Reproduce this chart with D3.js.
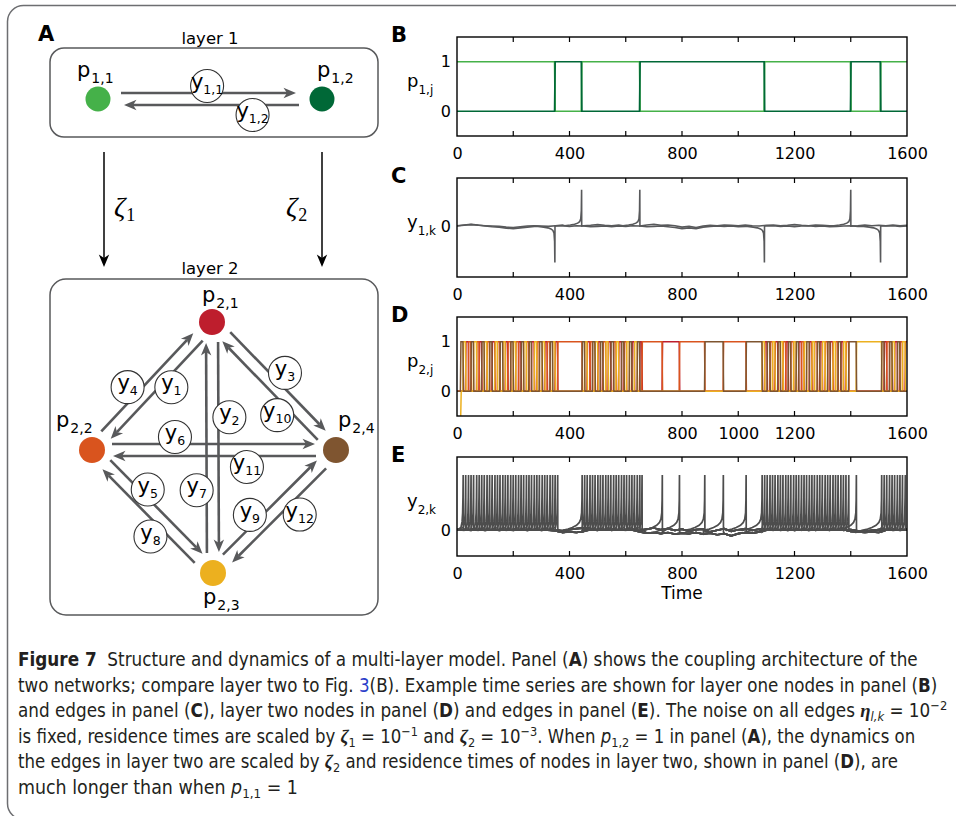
<!DOCTYPE html>
<html>
<head>
<meta charset="utf-8">
<script src="https://cdn.jsdelivr.net/npm/d3@7"></script>
<style>
  body { margin: 0; background: #fff; }
  svg { display: block; }
</style>
</head>
<body>
<svg id="fig" width="956" height="816"></svg>
<script>
// ================= data =================
const timeTicks  = [0, 400, 800, 1200, 1600];
const timeTicksD = [0, 400, 800, 1000, 1200, 1600];
const timeEnd = 1600;

// layer one: two nodes, two edges (from, to, label)
const layer1Nodes  = ["1,1", "1,2"];
const layer1Colors = ["#45b149", "#006837"];
const layer1Edges  = [[0, 1, "1,1"], [1, 0, "1,2"]];
// switch times of layer one: [time, node that becomes active]; node 0 active at t = 0
const layer1Switches = [[348, 1], [443, 0], [650, 1], [1093, 0], [1400, 1], [1506, 0]];
const layer1Initial  = [1, 0];
// direction of the edge spike at each layer-one switch (+1 up, -1 down)
const layer1SpikeSign = [-1, 1, 1, -1, 1, -1];

// layer two: four nodes, twelve edges (from, to, label)
const layer2Nodes  = ["2,1", "2,2", "2,3", "2,4"];
const layer2Colors = ["#be1e2d", "#d9541e", "#ecb01f", "#7f5530"];
const layer2Edges  = [
  [0, 1, "1"], [0, 2, "2"], [0, 3, "3"],
  [1, 0, "4"], [1, 2, "5"], [1, 3, "6"],
  [2, 0, "7"], [2, 1, "8"], [2, 3, "9"],
  [3, 0, "10"], [3, 1, "11"], [3, 2, "12"]
];
const layer2Initial = [0, 0, -0.55, 0];
const layer2SettleTime = 14;
// switch times of layer two: [time, node that becomes active]
const layer2Switches = [
  [13,3],[22,2],[31,0],[41,1],[50,3],[59,2],[70,1],[79,0],[88,3],[97,2],[107,1],[116,3],[125,0],
  [135,2],[144,1],[153,3],[163,2],[172,0],[181,1],[191,3],[200,2],[209,1],[219,0],[228,3],[237,2],
  [247,1],[256,3],[265,0],[275,2],[284,1],[293,3],[303,2],[312,0],[321,1],[331,3],[340,2],[349,0],[358,1],
  [445,3],[454,2],[463,0],[473,1],[482,3],[491,2],[501,0],[510,3],[519,1],[529,2],[538,0],[547,3],
  [557,1],[566,2],[575,0],[585,3],[594,1],[603,2],[613,3],[622,0],[631,2],[641,3],[650,0],[658,1],
  [730,0],[791,1],[881,3],[947,1],[1028,3],
  [1085,2],[1094,0],[1103,3],[1113,1],[1122,2],[1131,0],[1141,3],[1150,2],[1159,1],[1169,0],
  [1178,3],[1187,1],[1197,2],[1206,3],[1215,0],[1225,1],[1234,2],[1243,3],[1253,0],[1262,2],
  [1271,1],[1281,3],[1290,0],[1299,2],[1309,1],[1318,3],[1327,0],[1337,2],[1346,1],[1355,3],
  [1365,0],[1374,2],[1383,1],[1393,3],
  [1420,2],
  [1510,3],[1519,0],[1528,1],[1538,3],[1547,2],[1556,0],[1566,3],[1575,1],[1584,2],[1594,0]
];

// edge spike shapes: [time offset from switch, value]
const fastSpike   = [[-8,0.06],[-4,0.16],[-2,0.32],[-0.8,0.6],[0,1],[0.4,0.03]];
const slowSpike   = [[-70,0.01],[-50,0.03],[-35,0.06],[-20,0.1],[-10,0.15],[-5,0.21],[-2,0.32],[-0.7,0.55],[0,1],[0.4,-0.02]];
const layer1Spike = [[-60,0.01],[-40,0.03],[-25,0.05],[-14,0.08],[-7,0.12],[-3,0.2],[-1,0.42],[0,1],[0.4,0]];
const slowGap = 25;

// edge fluctuations around zero, sampled every 25 time units (t = 0 ... 1600)
const noiseStep = 25;
const noiseC1 = [
  0.01, 0.03, 0.05, 0.03, 0.00,  -0.02,-0.03,-0.06,-0.07,-0.05,  -0.03,-0.01,-0.03,-0.04, 0.00,
  0.01,-0.01, 0.01, 0.00,-0.02,  -0.01, 0.00,-0.02, 0.00,-0.01,   0.01, 0.00,-0.02,-0.01, 0.00,
 -0.02,-0.04,-0.07,-0.05,-0.07,  -0.03,-0.01, 0.00,-0.01, 0.00,  -0.02,-0.01, 0.00,-0.01, 0.00,
  0.01,-0.01, 0.00,-0.02, 0.00,   0.01,-0.01, 0.00,-0.02,-0.01,   0.00, 0.01,-0.01, 0.00,-0.02,
 -0.01, 0.00, 0.01,-0.01, 0.00];
const noiseC2 = [
  0.00, 0.02, 0.04, 0.02, 0.01,   0.00,-0.01,-0.03,-0.04,-0.02,   0.00, 0.01, 0.00,-0.01, 0.01,
  0.03, 0.02, 0.04, 0.01, 0.02,   0.04, 0.02, 0.01, 0.03, 0.05,   0.02, 0.01, 0.03, 0.05, 0.02,
  0.03, 0.01,-0.03,-0.01,-0.04,   0.00, 0.02, 0.01, 0.03, 0.02,   0.01, 0.03, 0.01, 0.00, 0.02,
  0.03, 0.01, 0.02, 0.04, 0.02,   0.01, 0.03, 0.02, 0.01, 0.03,   0.02, 0.00, 0.01, 0.03, 0.01,
  0.02, 0.01, 0.03, 0.01, 0.02];
const noiseE1 = [
  0.02, 0.01, 0.02, 0.01, 0.02,   0.01, 0.02, 0.01, 0.02, 0.01,   0.02, 0.01, 0.02, 0.01, 0.00,
 -0.03,-0.02,-0.03,-0.01, 0.02,   0.01, 0.02, 0.01, 0.02, 0.01,   0.01,-0.02,-0.04,-0.03,-0.05,
 -0.03,-0.06,-0.04,-0.05,-0.03,  -0.06,-0.04,-0.07,-0.05,-0.09,  -0.05,-0.03,-0.04,-0.02, 0.01,
  0.02, 0.01, 0.02, 0.01, 0.02,   0.01, 0.02, 0.01, 0.02, 0.01,   0.02,-0.01,-0.02,-0.03,-0.02,
 -0.03, 0.01, 0.02, 0.01, 0.02];
const noiseE2 = [
  0.01, 0.02, 0.01, 0.02, 0.01,   0.02, 0.01, 0.02, 0.01, 0.02,   0.01, 0.02, 0.01, 0.02, 0.01,
  0.00, 0.02, 0.04, 0.05, 0.02,   0.02, 0.01, 0.02, 0.01, 0.02,   0.02, 0.00, 0.03, 0.05, 0.02,
  0.04, 0.01, 0.03,-0.01, 0.02,   0.03,-0.02, 0.01, 0.04,-0.01,   0.02, 0.04, 0.01, 0.03, 0.02,
  0.01, 0.02, 0.01, 0.02, 0.01,   0.02, 0.01, 0.02, 0.01, 0.02,   0.01, 0.02, 0.00,-0.01, 0.01,
  0.02, 0.02, 0.01, 0.02, 0.01];

// caption text, one array of runs per printed line
const captionLines = [
  [{t:"Figure 7", b:1}, {t:"  Structure and dynamics of a multi-layer model. Panel ("}, {t:"A", b:1}, {t:") shows the coupling architecture of the"}],
  [{t:"two networks; compare layer two to Fig. "}, {t:"3", link:1}, {t:"(B). Example time series are shown for layer one nodes in panel ("}, {t:"B", b:1}, {t:")"}],
  [{t:"and edges in panel ("}, {t:"C", b:1}, {t:"), layer two nodes in panel ("}, {t:"D", b:1}, {t:") and edges in panel ("}, {t:"E", b:1},
   {t:"). The noise on all edges "}, {t:"η", g:1}, {t:"l,k", sub:1, i:1}, {t:" = 10"}, {t:"−2", sup:1}],
  [{t:"is fixed, residence times are scaled by "}, {t:"ζ", g:1}, {t:"1", sub:1}, {t:" = 10"}, {t:"−1", sup:1}, {t:" and "}, {t:"ζ", g:1}, {t:"2", sub:1},
   {t:" = 10"}, {t:"−3", sup:1}, {t:". When "}, {t:"p", i:1}, {t:"1,2", sub:1}, {t:" = 1 in panel ("}, {t:"A", b:1}, {t:"), the dynamics on"}],
  [{t:"the edges in layer two are scaled by "}, {t:"ζ", g:1}, {t:"2", sub:1}, {t:" and residence times of nodes in layer two, shown in panel ("}, {t:"D", b:1}, {t:"), are"}],
  [{t:"much longer than when "}, {t:"p", i:1}, {t:"1,1", sub:1}, {t:" = 1"}]
];

// ================= drawing =================
const FONT = '"DejaVu Sans", "Liberation Sans", Arial, sans-serif';
const SERIF = '"Liberation Serif", "DejaVu Serif", serif';
const CAPFONT = '"Liberation Sans Narrow", "DejaVu Sans Condensed", "Liberation Sans", sans-serif';
const svg = d3.select("#fig").attr("font-family", FONT);

// outer figure frame
svg.append("rect").attr("x", 7.5).attr("y", 5.5).attr("width", 1000).attr("height", 814)
  .attr("rx", 16).attr("fill", "none").attr("stroke", "#6d6e71").attr("stroke-width", 1.5);

// ---------- panel A: network diagram ----------
const HEAD = "M0,0 L-12.5,-5.2 L-9,0 L-12.5,5.2 Z";
const edgeGrey = "#58595b";
const gA = svg.append("g");

gA.append("text").attr("x", 38).attr("y", 41).attr("font-size", 21).attr("font-weight", "bold").text("A");
gA.append("text").attr("x", 210).attr("y", 44).attr("text-anchor", "middle").attr("font-size", 16.5).text("layer 1");
gA.append("text").attr("x", 210).attr("y", 274).attr("text-anchor", "middle").attr("font-size", 16.5).text("layer 2");

gA.append("rect").attr("x", 50).attr("y", 48).attr("width", 328).attr("height", 89).attr("rx", 14)
  .attr("fill", "none").attr("stroke", "#58595b").attr("stroke-width", 1.5);
gA.append("rect").attr("x", 50).attr("y", 279).attr("width", 328).attr("height", 336).attr("rx", 16)
  .attr("fill", "none").attr("stroke", "#58595b").attr("stroke-width", 1.5);

// coupling arrows between the layers
const zetaArrows = [{x: 104, sub: "1", lx: 114}, {x: 322, sub: "2", lx: 286}];
zetaArrows.forEach(z => {
  gA.append("line").attr("x1", z.x).attr("y1", 152).attr("x2", z.x).attr("y2", 258)
    .attr("stroke", "#000").attr("stroke-width", 1.5);
  gA.append("path").attr("d", HEAD).attr("fill", "#000")
    .attr("transform", `translate(${z.x},267) rotate(90)`);
  const t = gA.append("text").attr("x", z.lx).attr("y", 216).attr("font-family", SERIF);
  t.append("tspan").attr("font-size", 28).attr("font-style", "italic").text("ζ");
  t.append("tspan").attr("font-size", 18).attr("dy", 5).attr("dx", 1).text(z.sub);
});

function drawNetwork(g, pos, edges, colors, names, opt) {
  const geo = edges.map(([a, b, lab], i) => {
    const A = pos[a], B = pos[b];
    const dx = B[0] - A[0], dy = B[1] - A[1], L = Math.hypot(dx, dy);
    const u = [dx / L, dy / L], n = [-u[1], u[0]];
    const o = [n[0] * opt.offset, n[1] * opt.offset];
    const s = [A[0] + u[0] * opt.trimStart + o[0], A[1] + u[1] * opt.trimStart + o[1]];
    const tip = [B[0] - u[0] * opt.trimEnd + o[0], B[1] - u[1] * opt.trimEnd + o[1]];
    const along = opt.along[i] * L, perp = opt.perp[i];
    const c = [A[0] + u[0] * along + n[0] * perp, A[1] + u[1] * along + n[1] * perp];
    return {s, tip, u, c, lab, ang: Math.atan2(u[1], u[0]) * 180 / Math.PI};
  });
  g.selectAll(null).data(geo).join("line")
    .attr("x1", d => d.s[0]).attr("y1", d => d.s[1])
    .attr("x2", d => d.tip[0] - d.u[0] * 9).attr("y2", d => d.tip[1] - d.u[1] * 9)
    .attr("stroke", edgeGrey).attr("stroke-width", 2.6);
  g.selectAll(null).data(geo).join("path").attr("d", HEAD).attr("fill", edgeGrey)
    .attr("transform", d => `translate(${d.tip[0]},${d.tip[1]}) rotate(${d.ang})`);
  const lab = g.selectAll(null).data(geo).join("g")
    .attr("transform", d => `translate(${d.c[0]},${d.c[1]})`);
  lab.append("circle").attr("r", 16.5).attr("fill", "#fff").attr("stroke", "#333").attr("stroke-width", 1.1);
  const tx = lab.append("text").attr("text-anchor", "middle").attr("y", 3).attr("font-size", 21);
  tx.append("tspan").text("y");
  tx.append("tspan").attr("font-size", 12.5).attr("dy", 5).text(d => d.lab);

  g.selectAll(null).data(pos).join("circle")
    .attr("cx", d => d[0]).attr("cy", d => d[1]).attr("r", opt.r)
    .attr("fill", (d, i) => colors[i]);
  const nl = g.selectAll(null).data(pos).join("text")
    .attr("x", (d, i) => d[0] + opt.labelOffset[i][0])
    .attr("y", (d, i) => d[1] + opt.labelOffset[i][1]);
  nl.append("tspan").attr("font-size", 21).text("p");
  nl.append("tspan").attr("font-size", 14).attr("dy", 6).attr("dx", 1).text((d, i) => names[i]);
}

// layout of the two networks
const layer1Pos = [[98, 99], [322, 99]];
const layer2Pos = [[212, 322], [92, 450], [213, 573], [336, 450]];

drawNetwork(gA.append("g"), layer1Pos, layer1Edges, layer1Colors, layer1Nodes, {
  offset: -6, trimStart: 23, trimEnd: 26, r: 12.5,
  along: [0.487, 0.31], perp: [-13, -16],
  labelOffset: [[-21, -22], [-5, -22]]
});
drawNetwork(gA.append("g"), layer2Pos, layer2Edges, layer2Colors, layer2Nodes, {
  offset: -6, trimStart: 20, trimEnd: 21, r: 13,
  along: [0.43, 0.38, 0.49, 0.40, 0.39, 0.34, 0.33, 0.405, 0.386, 0.37, 0.365, 0.41],
  perp:  [-15, -17, -17, -17, -12, -13, -16, -19, -15, -18, -17, -20],
  labelOffset: [[-10, -20], [-36, -23], [-10, 31], [2, -23]]
});

// ---------- time-series panels ----------
const x = d3.scaleLinear().domain([0, timeEnd]).range([457, 907]);
const line = y => d3.line().x(d => x(d[0])).y(d => y(d[1]));

function panel(key, letter, top, bottom, domain, xTickValues, yTickValues, ySym, ySub) {
  const g = svg.append("g");
  const y = d3.scaleLinear().domain(domain).range([bottom, top]);
  g.append("clipPath").attr("id", "clip" + key).append("rect")
    .attr("x", x(0)).attr("y", top).attr("width", x(timeEnd) - x(0)).attr("height", bottom - top);
  const plot = g.append("g").attr("clip-path", `url(#clip${key})`);
  const over = g.append("g");

  over.append("rect").attr("x", x(0)).attr("y", top).attr("width", x(timeEnd) - x(0)).attr("height", bottom - top)
    .attr("fill", "none").attr("stroke", "#000").attr("stroke-width", 1.4);
  const minor = d3.range(200, timeEnd, 200);
  over.selectAll(null).data(minor).join("path")
    .attr("d", d => `M${x(d)},${bottom}v-5M${x(d)},${top}v5`)
    .attr("stroke", "#000").attr("stroke-width", 1.2);

  over.append("g").attr("transform", `translate(0,${bottom})`)
    .call(d3.axisBottom(x).tickValues(xTickValues).tickFormat(d3.format("d")).tickSize(0).tickPadding(12))
    .attr("font-size", 16).attr("font-family", FONT)
    .call(s => s.select(".domain").remove());
  over.append("g").attr("transform", `translate(${x(0)},0)`)
    .call(d3.axisLeft(y).tickValues(yTickValues).tickFormat(d3.format("d")).tickSize(0).tickPadding(6))
    .attr("font-size", 16).attr("font-family", FONT)
    .call(s => s.select(".domain").remove());

  over.append("text").attr("x", 391).attr("y", top + 5).attr("font-size", 21).attr("font-weight", "bold").text(letter);
  const mid = (top + bottom) / 2;
  const yl = over.append("text").attr("x", 407).attr("y", mid);
  yl.append("tspan").attr("font-size", 18).text(ySym);
  yl.append("tspan").attr("font-size", 12).attr("dy", 7).text(ySub);
  return {plot, y};
}

// node time series built from switch lists
function nodeSeries(switches, initial, settle) {
  const series = initial.map(v => [[0, v]]);
  // nodes that start below zero relax to zero first
  initial.forEach((v, j) => { if (v < 0) series[j].push([settle - 1, v], [settle + 1, 0]); });
  let prev = initial.indexOf(1);
  switches.forEach(([t, k]) => {
    if (prev >= 0) series[prev].push([t - 1, 1], [t + 1, 0]);
    series[k].push([t - 1, 0], [t + 1, 1]);
    prev = k;
  });
  series.forEach((s, j) => s.push([timeEnd, j === prev ? 1 : 0]));
  return series;
}

// edge time series: sampled fluctuations plus spikes at the given times
function edgeSeries(noise, spikes) {
  const pts = [];
  noise.forEach((v, i) => {
    const t = i * noiseStep;
    const inside = spikes.some(sp => t >= sp.t + sp.shape[0][0] && t <= sp.t + sp.shape[sp.shape.length - 1][0]);
    if (!inside) pts.push([t, v]);
  });
  spikes.forEach(sp => sp.shape.forEach(([dt, v]) => pts.push([sp.t + dt, v * sp.sign])));
  return pts.sort((a, b) => a[0] - b[0]);
}

// B: layer-one nodes
const B = panel("B", "B", 37, 136, [-0.5, 1.5], timeTicks, [0, 1], "p", "1,j");
const seriesB = nodeSeries(layer1Switches, layer1Initial, 0);
seriesB.forEach((s, j) => B.plot.append("path").attr("d", line(B.y)(s))
  .attr("fill", "none").attr("stroke", layer1Colors[j]).attr("stroke-width", 1.7));

// C: layer-one edges
const C = panel("C", "C", 178, 277, [-1.4, 1.32], timeTicks, [0], "y", "1,k");
const spikesC = layer1Switches.map(([t], i) => ({t, sign: layer1SpikeSign[i], shape: layer1Spike}));
[
  edgeSeries(noiseC1, spikesC.filter(s => s.sign < 0)),
  edgeSeries(noiseC2, spikesC.filter(s => s.sign > 0))
].forEach(s => C.plot.append("path").attr("d", line(C.y)(s))
  .attr("fill", "none").attr("stroke", "#58595b").attr("stroke-width", 1.6));

// D: layer-two nodes
const D = panel("D", "D", 317, 416, [-0.5, 1.5], timeTicksD, [0, 1], "p", "2,j");
const seriesD = nodeSeries(layer2Switches, layer2Initial, layer2SettleTime);
seriesD.forEach((s, j) => D.plot.append("path").attr("d", line(D.y)(s))
  .attr("fill", "none").attr("stroke", layer2Colors[j]).attr("stroke-width", 1.5));

// E: layer-two edges
const E = panel("E", "E", 457, 556, [-0.45, 1.32], timeTicks, [0], "y", "2,k");
const spikesE = layer2Edges.map(() => []);
layer2Switches.forEach(([t, k], i) => {
  if (i === 0) return;
  const [tp, kp] = layer2Switches[i - 1];
  const e = layer2Edges.findIndex(ed => ed[0] === kp && ed[1] === k);
  spikesE[e].push({t, sign: 1, shape: (t - tp) > slowGap ? slowSpike : fastSpike});
});
spikesE.forEach((sp, e) => E.plot.append("path")
  .attr("d", line(E.y)(edgeSeries(e % 2 ? noiseE2 : noiseE1, sp)))
  .attr("fill", "none").attr("stroke", "#4d4d4d").attr("stroke-width", 1.7));

svg.append("text").attr("x", x(timeEnd / 2)).attr("y", 599).attr("text-anchor", "middle")
  .attr("font-size", 17).text("Time");

// ---------- caption ----------
const capWidths = [900, 920, 930, 898, 880, 280];
captionLines.forEach((runs, i) => {
  const t = svg.append("text").attr("font-family", CAPFONT).attr("font-size", 19)
    .attr("fill", "#231f20").style("white-space", "pre");
  let shift = 0;
  runs.forEach(r => {
    const ts = t.append("tspan").text(r.t);
    let target = 0;
    if (r.sub) { ts.attr("font-size", 13); target = 4; }
    if (r.sup) { ts.attr("font-size", 13); target = -7; }
    if (target !== shift) ts.attr("dy", target - shift);
    shift = target;
    if (r.b) ts.attr("font-weight", "bold");
    if (r.i) ts.attr("font-style", "italic");
    if (r.g) ts.attr("font-family", SERIF).attr("font-style", "italic").attr("font-weight", "bold");
    if (r.link) ts.attr("fill", "#2b3ec9");
  });
  const w = t.node().getBBox().width;
  t.attr("transform", `translate(18,${666 + i * 25.5}) scale(${capWidths[i] / w},1)`);
});
</script>
</body>
</html>
